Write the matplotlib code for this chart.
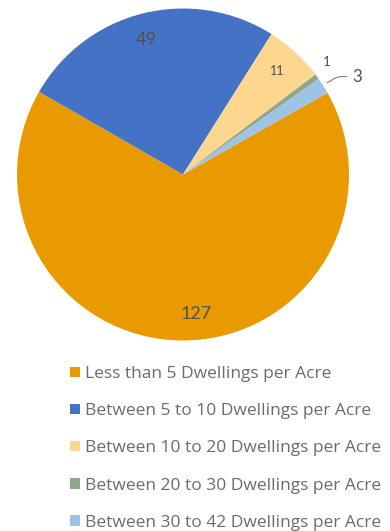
import matplotlib.pyplot as plt
from matplotlib.patches import Patch

# dwellings per acre categories and counts
categories = ['Less than 5 Dwellings per Acre',
              'Between 5 to 10 Dwellings per Acre',
              'Between 10 to 20 Dwellings per Acre',
              'Between 20 to 30 Dwellings per Acre',
              'Between 30 to 42 Dwellings per Acre']
counts = [127, 49, 11, 1, 3]
colors = ['#E99A00', '#4472C4', '#FDD690', '#8FA68A', '#9DC3E6']

plt.rcParams['font.family'] = ['Lato', 'DejaVu Sans']

fig = plt.figure(figsize=(3.9, 5.31), dpi=100)
ax = fig.add_axes([17/390, 190.5/531, 332/390, 332/531])

wedges, texts = ax.pie(counts, colors=colors, startangle=29.5, counterclock=False,
                       labels=[str(c) for c in counts], labeldistance=0.84,
                       wedgeprops=dict(linewidth=0),
                       textprops=dict(color='#505050'))
ax.set_xlim(-1, 1)
ax.set_ylim(-1, 1)
ax.set_aspect('equal')
ax.axis('off')

sizes = [13, 13, 9, 9.5, 12]
label_pos = [(0.08, -0.84), (-0.22, 0.81), (0.57, 0.625), (0.866, 0.68), None]
for t, s, p in zip(texts, sizes, label_pos):
    t.set_fontsize(s)
    t.set_ha('center')
    t.set_va('center')
    if p is not None:
        t.set_position(p)

# the 3 slice gets a leader line out to the right
texts[4].set_visible(False)
ax.annotate(str(counts[4]), xy=(0.855, 0.545), xytext=(1.02, 0.59),
            fontsize=12, color='#505050', va='center', ha='left',
            arrowprops=dict(arrowstyle='-', color='#808080', lw=0.8,
                            connectionstyle='angle,angleA=0,angleB=30,rad=4'))

handles = [Patch(facecolor=c, edgecolor='none') for c in colors]
fig.legend(handles, categories, loc='upper left', bbox_to_anchor=(70/390, 1 - 366/531),
           frameon=False, prop=dict(family='Open Sans', size=12.5), labelcolor='#6b6b6b',
           handlelength=0.55, handleheight=0.55, handletextpad=0.3,
           labelspacing=1.22, borderaxespad=0, borderpad=0)

fig.savefig('out.png', dpi=100)
